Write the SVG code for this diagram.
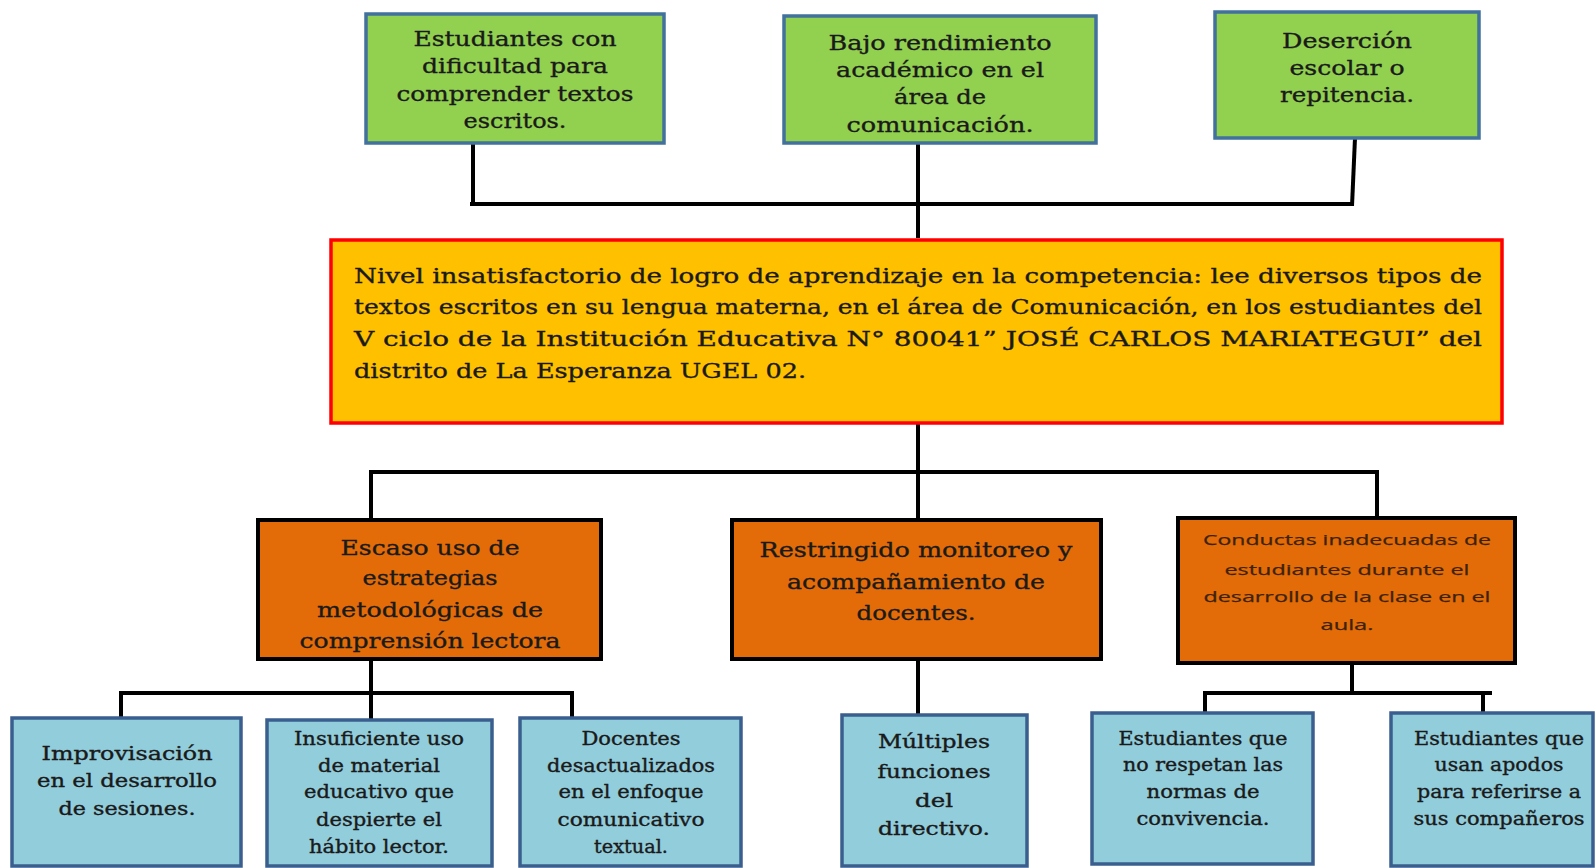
<svg xmlns="http://www.w3.org/2000/svg" width="1595" height="868" viewBox="0 0 1595 868">
<style>
.g{fill:#92D050;stroke:#41719C;stroke-width:3.5}
.r{fill:#FFC000;stroke:#FF0000;stroke-width:3.5}
.o{fill:#E36C09;stroke:#000;stroke-width:4}
.b{fill:#92CDDC;stroke:#3A5F8E;stroke-width:3.5}
.t{font-family:"DejaVu Serif","Liberation Serif",serif;fill:#1a1a1a;stroke:#1a1a1a;stroke-width:0.35;text-anchor:middle}
.t21{font-size:21px}
.t18{font-size:18px}
.j{font-family:"DejaVu Serif","Liberation Serif",serif;fill:#1a1a1a;stroke:#1a1a1a;stroke-width:0.35;font-size:21px}
.s{font-family:"Open Sans","DejaVu Sans",sans-serif;font-size:15px;fill:#3d2208;stroke:#3d2208;stroke-width:0.25;text-anchor:middle}
.c{fill:none;stroke:#000;stroke-width:4}
</style>
<rect width="1595" height="868" fill="#fff"/>
<g id="connectors">
<path class="c" d="M473,143 V204"/>
<path class="c" d="M470,204 H1352"/>
<path class="c" d="M918,143 V238"/>
<path class="c" d="M1355,138 L1352,206"/>
<path class="c" d="M918,413 V520"/>
<path class="c" d="M371,520 V472 H1377 V518"/>
<path class="c" d="M371,659 V720"/>
<path class="c" d="M121,718 V693 H572 V718"/>
<path class="c" d="M918,659 V715"/>
<path class="c" d="M1352,663 V693"/>
<path class="c" d="M1205,713 V693 H1492"/>
<path class="c" d="M1483,693 V713"/>
</g>
<g id="n1">
<rect class="g" x="366" y="14" width="298" height="129"/>
<text class="t t21" x="515" y="46" textLength="203" lengthAdjust="spacingAndGlyphs">Estudiantes con</text>
<text class="t t21" x="515" y="73" textLength="186" lengthAdjust="spacingAndGlyphs">dificultad para</text>
<text class="t t21" x="515" y="101" textLength="237" lengthAdjust="spacingAndGlyphs">comprender textos</text>
<text class="t t21" x="515" y="128" textLength="103" lengthAdjust="spacingAndGlyphs">escritos.</text>
</g>
<g id="n2">
<rect class="g" x="784" y="16" width="312" height="127"/>
<text class="t t21" x="940" y="50" textLength="223" lengthAdjust="spacingAndGlyphs">Bajo rendimiento</text>
<text class="t t21" x="940" y="77" textLength="208" lengthAdjust="spacingAndGlyphs">académico en el</text>
<text class="t t21" x="940" y="104" textLength="92" lengthAdjust="spacingAndGlyphs">área de</text>
<text class="t t21" x="940" y="132" textLength="187" lengthAdjust="spacingAndGlyphs">comunicación.</text>
</g>
<g id="n3">
<rect class="g" x="1215" y="12" width="264" height="126"/>
<text class="t t21" x="1347" y="48" textLength="130" lengthAdjust="spacingAndGlyphs">Deserción</text>
<text class="t t21" x="1347" y="75" textLength="115" lengthAdjust="spacingAndGlyphs">escolar o</text>
<text class="t t21" x="1347" y="102" textLength="134" lengthAdjust="spacingAndGlyphs">repitencia.</text>
</g>
<g id="problem">
<rect class="r" x="331" y="240" width="1171" height="183"/>
<text class="j" x="354" y="283" textLength="1128" lengthAdjust="spacingAndGlyphs">Nivel insatisfactorio de logro de aprendizaje en la competencia: lee diversos tipos de</text>
<text class="j" x="354" y="314" textLength="1128" lengthAdjust="spacingAndGlyphs">textos escritos en su lengua materna, en el área de Comunicación, en los estudiantes del</text>
<text class="j" x="354" y="346" textLength="1128" lengthAdjust="spacingAndGlyphs">V ciclo de la Institución Educativa N° 80041” JOSÉ CARLOS MARIATEGUI” del</text>
<text class="j" x="354" y="378" textLength="452" lengthAdjust="spacingAndGlyphs">distrito de La Esperanza UGEL 02.</text>
</g>
<g id="c1">
<rect class="o" x="258" y="520" width="343" height="139"/>
<text class="t t21" x="430" y="555" textLength="179" lengthAdjust="spacingAndGlyphs">Escaso uso de</text>
<text class="t t21" x="430" y="585" textLength="135" lengthAdjust="spacingAndGlyphs">estrategias</text>
<text class="t t21" x="430" y="617" textLength="226" lengthAdjust="spacingAndGlyphs">metodológicas de</text>
<text class="t t21" x="430" y="648" textLength="261" lengthAdjust="spacingAndGlyphs">comprensión lectora</text>
</g>
<g id="c2">
<rect class="o" x="732" y="520" width="369" height="139"/>
<text class="t t21" x="916" y="557" textLength="313" lengthAdjust="spacingAndGlyphs">Restringido monitoreo y</text>
<text class="t t21" x="916" y="589" textLength="258" lengthAdjust="spacingAndGlyphs">acompañamiento de</text>
<text class="t t21" x="916" y="620" textLength="119" lengthAdjust="spacingAndGlyphs">docentes.</text>
</g>
<g id="c3">
<rect class="o" x="1178" y="518" width="337" height="145"/>
<text class="s" x="1347" y="545" textLength="288" lengthAdjust="spacingAndGlyphs">Conductas inadecuadas de</text>
<text class="s" x="1347" y="575" textLength="245" lengthAdjust="spacingAndGlyphs">estudiantes durante el</text>
<text class="s" x="1347" y="602" textLength="287" lengthAdjust="spacingAndGlyphs">desarrollo de la clase en el</text>
<text class="s" x="1347" y="630" textLength="53" lengthAdjust="spacingAndGlyphs">aula.</text>
</g>
<g id="s1">
<rect class="b" x="12" y="718" width="229" height="148"/>
<text class="t t18" x="127" y="760" textLength="171" lengthAdjust="spacingAndGlyphs">Improvisación</text>
<text class="t t18" x="127" y="787" textLength="180" lengthAdjust="spacingAndGlyphs">en el desarrollo</text>
<text class="t t18" x="127" y="815" textLength="137" lengthAdjust="spacingAndGlyphs">de sesiones.</text>
</g>
<g id="s2">
<rect class="b" x="267" y="720" width="225" height="146"/>
<text class="t t18" x="379" y="745" textLength="170" lengthAdjust="spacingAndGlyphs">Insuficiente uso</text>
<text class="t t18" x="379" y="772" textLength="122" lengthAdjust="spacingAndGlyphs">de material</text>
<text class="t t18" x="379" y="798" textLength="150" lengthAdjust="spacingAndGlyphs">educativo que</text>
<text class="t t18" x="379" y="826" textLength="126" lengthAdjust="spacingAndGlyphs">despierte el</text>
<text class="t t18" x="379" y="853" textLength="140" lengthAdjust="spacingAndGlyphs">hábito lector.</text>
</g>
<g id="s3">
<rect class="b" x="520" y="718" width="221" height="148"/>
<text class="t t18" x="631" y="745" textLength="99" lengthAdjust="spacingAndGlyphs">Docentes</text>
<text class="t t18" x="631" y="772" textLength="168" lengthAdjust="spacingAndGlyphs">desactualizados</text>
<text class="t t18" x="631" y="798" textLength="145" lengthAdjust="spacingAndGlyphs">en el enfoque</text>
<text class="t t18" x="631" y="826" textLength="147" lengthAdjust="spacingAndGlyphs">comunicativo</text>
<text class="t t18" x="631" y="853" textLength="74" lengthAdjust="spacingAndGlyphs">textual.</text>
</g>
<g id="s4">
<rect class="b" x="842" y="715" width="185" height="151"/>
<text class="t t18" x="934" y="748" textLength="112" lengthAdjust="spacingAndGlyphs">Múltiples</text>
<text class="t t18" x="934" y="778" textLength="113" lengthAdjust="spacingAndGlyphs">funciones</text>
<text class="t t18" x="934" y="807" textLength="38" lengthAdjust="spacingAndGlyphs">del</text>
<text class="t t18" x="934" y="835" textLength="112" lengthAdjust="spacingAndGlyphs">directivo.</text>
</g>
<g id="s5">
<rect class="b" x="1092" y="713" width="221" height="151"/>
<text class="t t18" x="1203" y="745" textLength="169" lengthAdjust="spacingAndGlyphs">Estudiantes que</text>
<text class="t t18" x="1203" y="771" textLength="160" lengthAdjust="spacingAndGlyphs">no respetan las</text>
<text class="t t18" x="1203" y="798" textLength="113" lengthAdjust="spacingAndGlyphs">normas de</text>
<text class="t t18" x="1203" y="825" textLength="133" lengthAdjust="spacingAndGlyphs">convivencia.</text>
</g>
<g id="s6">
<rect class="b" x="1391" y="713" width="202" height="153"/>
<text class="t t18" x="1499" y="745" textLength="170" lengthAdjust="spacingAndGlyphs">Estudiantes que</text>
<text class="t t18" x="1499" y="771" textLength="129" lengthAdjust="spacingAndGlyphs">usan apodos</text>
<text class="t t18" x="1499" y="798" textLength="164" lengthAdjust="spacingAndGlyphs">para referirse a</text>
<text class="t t18" x="1499" y="825" textLength="171" lengthAdjust="spacingAndGlyphs">sus compañeros</text>
</g>
</svg>
